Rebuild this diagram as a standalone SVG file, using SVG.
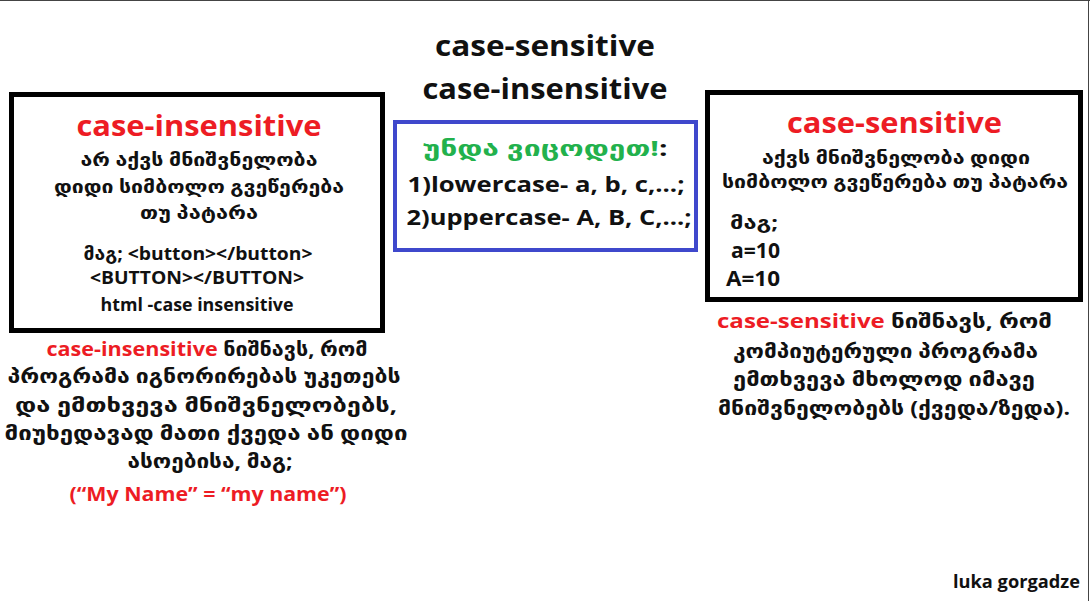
<svg xmlns="http://www.w3.org/2000/svg" width="1090" height="601" viewBox="0 0 1090 601">
<style>
text{font-family:"Open Sans","DejaVu Sans",sans-serif;font-weight:bold;fill:#111;}
.c{text-anchor:middle;}
.red{fill:#ed1c24;}
.grn{fill:#22b14c;}
.box{fill:#fff;stroke:#000;stroke-width:5;}
.blue{fill:#fff;stroke:#3f48cc;stroke-width:4;}
.t28{font-size:28px;}
.t22{font-size:22px;}
.t20{font-size:21px;}
.t17{font-size:17px;}
.g18{font-size:17px;}
.g20{font-size:19px;}
</style>
<rect x="0" y="0" width="1090" height="601" fill="#fff"/>
<line x1="0" y1="0.5" x2="1090" y2="0.5" stroke="#444" stroke-width="1"/>
<line x1="1088.5" y1="0" x2="1088.5" y2="601" stroke="#444" stroke-width="1"/>
<g id="connectors"></g>
<g id="title">
<text class="c t28" x="545" y="56" textLength="220" lengthAdjust="spacingAndGlyphs">case-sensitive</text>
<text class="c t28" x="545" y="99" textLength="245" lengthAdjust="spacingAndGlyphs">case-insensitive</text>
</g>
<g id="left-box">
<rect class="box" x="11.5" y="94.5" width="371" height="236"/>
<text class="c t28 red" x="199" y="136" textLength="245" lengthAdjust="spacingAndGlyphs">case-insensitive</text>
<text class="c g18" x="199" y="166" textLength="237" lengthAdjust="spacingAndGlyphs">არ აქვს მნიშვნელობა</text>
<text class="c g18" x="199" y="193" textLength="290" lengthAdjust="spacingAndGlyphs">დიდი სიმბოლო გვეწერება</text>
<text class="c g18" x="199" y="219" textLength="118" lengthAdjust="spacingAndGlyphs">თუ პატარა</text>
<text class="c t17" x="198" y="260" textLength="229" lengthAdjust="spacingAndGlyphs">მაგ; &lt;button&gt;&lt;/button&gt;</text>
<text class="c t17" x="197" y="284" textLength="214" lengthAdjust="spacingAndGlyphs">&lt;BUTTON&gt;&lt;/BUTTON&gt;</text>
<text class="c t17" x="197" y="311" textLength="193" lengthAdjust="spacingAndGlyphs">html -case insensitive</text>
</g>
<g id="left-note">
<text class="c g20" x="207" y="356" textLength="321" lengthAdjust="spacingAndGlyphs"><tspan class="red">case-insensitive</tspan> ნიშნავს, რომ</text>
<text class="c g20" x="204" y="383" textLength="393" lengthAdjust="spacingAndGlyphs">პროგრამა იგნორირებას უკეთებს</text>
<text class="c g20" x="206" y="412" textLength="382" lengthAdjust="spacingAndGlyphs">და ემთხვევა მნიშვნელობებს,</text>
<text class="c g20" x="206" y="440" textLength="403" lengthAdjust="spacingAndGlyphs">მიუხედავად მათი ქვედა ან დიდი</text>
<text class="c g20" x="210" y="468" textLength="165" lengthAdjust="spacingAndGlyphs">ასოებისა, მაგ;</text>
<text class="c g20 red" x="208" y="501" textLength="277" lengthAdjust="spacingAndGlyphs">(“My Name” = “my name”)</text>
</g>
<g id="center-box">
<rect class="blue" x="395" y="122" width="301" height="128"/>
<text class="c t22" x="545" y="156" textLength="245" lengthAdjust="spacingAndGlyphs"><tspan class="grn">უნდა ვიცოდეთ!</tspan>:</text>
<text class="c t22" x="546" y="192" textLength="277" lengthAdjust="spacingAndGlyphs">1)lowercase- a, b, c,...;</text>
<text class="c t22" x="549" y="225" textLength="285" lengthAdjust="spacingAndGlyphs">2)uppercase- A, B, C,...;</text>
</g>
<g id="right-box">
<rect class="box" x="707.5" y="92.5" width="373" height="207"/>
<text class="c t28 red" x="894.5" y="133" textLength="215" lengthAdjust="spacingAndGlyphs">case-sensitive</text>
<text class="c g18" x="896" y="164" textLength="268" lengthAdjust="spacingAndGlyphs">აქვს მნიშვნელობა დიდი</text>
<text class="c g18" x="895" y="188" textLength="346" lengthAdjust="spacingAndGlyphs">სიმბოლო გვეწერება თუ პატარა</text>
<text class="g18" x="730" y="229" textLength="48" lengthAdjust="spacingAndGlyphs">მაგ;</text>
<text class="t20" x="731" y="258" textLength="49" lengthAdjust="spacingAndGlyphs">a=10</text>
<text class="t20" x="726" y="286" textLength="54" lengthAdjust="spacingAndGlyphs">A=10</text>
</g>
<g id="right-note">
<text class="c g20" x="884.5" y="328" textLength="335" lengthAdjust="spacingAndGlyphs"><tspan class="red">case-sensitive</tspan> ნიშნავს, რომ</text>
<text class="c g20" x="885.5" y="358" textLength="305" lengthAdjust="spacingAndGlyphs">კომპიუტერული პროგრამა</text>
<text class="c g20" x="884" y="386" textLength="302" lengthAdjust="spacingAndGlyphs">ემთხვევა მხოლოდ იმავე</text>
<text class="c g20" x="894" y="415" textLength="352" lengthAdjust="spacingAndGlyphs">მნიშვნელობებს (ქვედა/ზედა).</text>
</g>
<g id="signature">
<text class="t17" x="953" y="588" textLength="127" lengthAdjust="spacingAndGlyphs">luka gorgadze</text>
</g>
</svg>
